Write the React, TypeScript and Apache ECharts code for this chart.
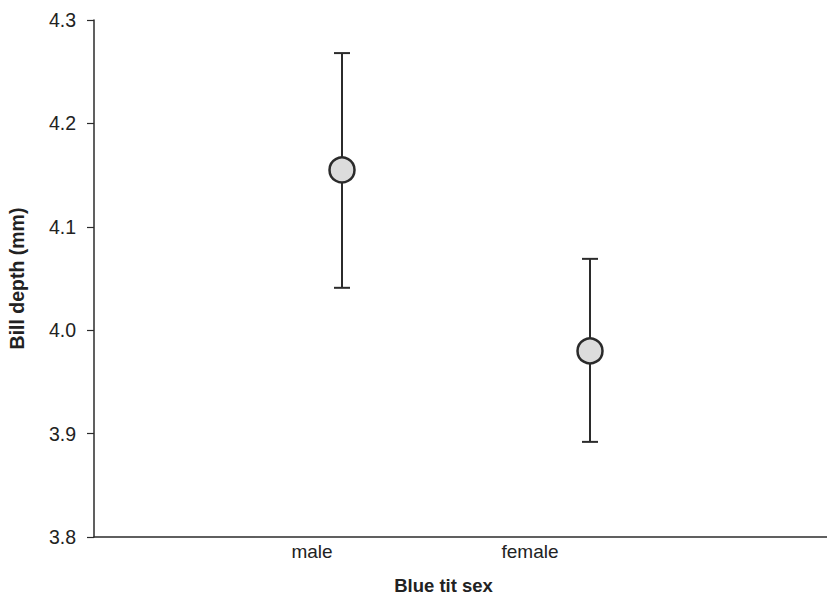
import React, { useEffect, useRef } from "react";
import * as echarts from "echarts";

const categories = ["male", "female"];
const xPositions = [1, 2];
const means = [4.155, 3.98];
const lower = [4.041, 3.892];
const upper = [4.268, 4.069];
const yTicks = [3.8, 3.9, 4.0, 4.1, 4.2, 4.3];

const FONT = "'Liberation Sans', Arial, sans-serif";
const INK = "#2b2b2b";

export default function App() {
  const ref = useRef<HTMLDivElement>(null);
  useEffect(() => {
    if (!ref.current) return;
    const chart = echarts.init(ref.current, null, { renderer: "svg" });
    const errData = xPositions.map((x, i) => [x, lower[i], upper[i]]);
    const ptData = xPositions.map((x, i) => [x, means[i]]);
    chart.setOption({
      animation: false,
      backgroundColor: "#ffffff",
      grid: { left: 94, top: 20, width: 744, height: 517, outerBoundsMode: "none", containLabel: false },
      xAxis: [
        {
          type: "value",
          min: 0,
          max: 3,
          position: "bottom",
          axisLine: { show: true, onZero: false, lineStyle: { color: INK, width: 1.5 } },
          axisTick: { show: false },
          axisLabel: { show: false },
          splitLine: { show: false },
          name: "Blue tit sex",
          nameLocation: "middle",
          nameGap: 39,
          nameTextStyle: {
            fontFamily: FONT,
            fontSize: 18.5,
            fontWeight: "bold",
            color: "#222",
            padding: [0, 45, 0, 0],
          },
        },
        {
          type: "value",
          min: 0,
          max: 744 / 218,
          interval: 1,
          position: "bottom",
          axisLine: { show: false },
          axisTick: { show: false },
          splitLine: { show: false },
          axisLabel: {
            show: true,
            margin: 5,
            showMaxLabel: false,
            fontFamily: FONT,
            fontSize: 19,
            color: "#222",
            formatter: (v: number) => {
              const idx = Math.round(v) - 1;
              return Math.abs(v - Math.round(v)) < 1e-6 && idx >= 0 && idx < categories.length
                ? categories[idx]
                : "";
            },
          },
        },
      ],
      yAxis: {
        type: "value",
        min: yTicks[0],
        max: yTicks[yTicks.length - 1],
        interval: 0.1,
        axisLine: { show: true, lineStyle: { color: INK, width: 1.5 } },
        axisTick: { show: true, inside: false, length: 7, lineStyle: { color: INK, width: 1.2 } },
        splitLine: { show: false },
        axisLabel: {
          margin: 18,
          fontFamily: FONT,
          fontSize: 19.5,
          color: "#222",
          formatter: (v: number) => v.toFixed(1),
        },
        name: "Bill depth (mm)",
        nameLocation: "middle",
        nameGap: 67,
        nameTextStyle: {
          fontFamily: FONT,
          fontSize: 19.5,
          fontWeight: "bold",
          color: "#222",
        },
      },
      series: [
        {
          type: "custom",
          xAxisIndex: 0,
          data: errData,
          renderItem: (params: any, api: any) => {
            const x = api.value(0);
            const lo = api.coord([x, api.value(1)]);
            const hi = api.coord([x, api.value(2)]);
            const hw = 8;
            const style = { stroke: INK, lineWidth: 2 };
            return {
              type: "group",
              children: [
                { type: "line", shape: { x1: lo[0], y1: lo[1], x2: hi[0], y2: hi[1] }, style },
                { type: "line", shape: { x1: hi[0] - hw, y1: hi[1], x2: hi[0] + hw, y2: hi[1] }, style },
                { type: "line", shape: { x1: lo[0] - hw, y1: lo[1], x2: lo[0] + hw, y2: lo[1] }, style },
              ],
            };
          },
          z: 1,
        },
        {
          type: "scatter",
          xAxisIndex: 0,
          data: ptData,
          symbol: "circle",
          symbolSize: 25,
          itemStyle: { color: "#dcdcdc", borderColor: INK, borderWidth: 2.5, opacity: 1 },
          z: 2,
        },
      ],
    });
    return () => chart.dispose();
  }, []);
  return (
    <div
      ref={ref}
      style={{ position: "absolute", left: 0, top: 0, width: 827, height: 595 }}
    />
  );
}
